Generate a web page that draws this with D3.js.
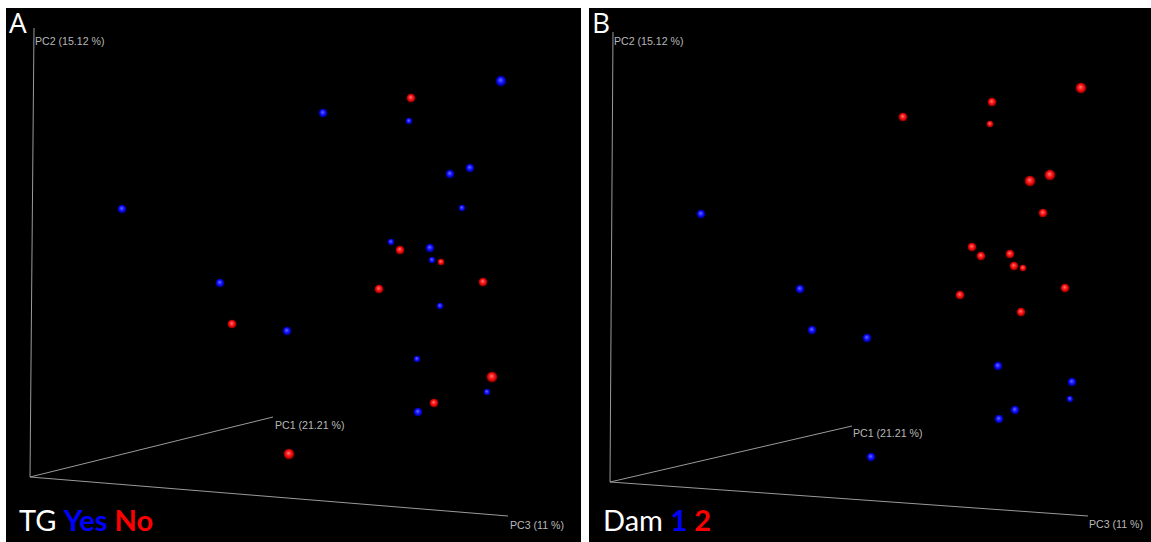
<!DOCTYPE html>
<html>
<head>
<meta charset="utf-8">
<script src="https://cdn.jsdelivr.net/npm/d3@7"></script>
<style>
  body { margin: 0; background: #fff; }
  .axisLabel { font-family: "Liberation Sans", Arial, sans-serif; font-size: 10.6px; fill: #b8b8b8; }
  .panelLetter { font-family: "Open Sans", "DejaVu Sans", sans-serif; font-size: 28px; fill: #fff; }
  .legend { font-family: Lato, "Open Sans", sans-serif; font-size: 29px; }
</style>
</head>
<body>
<div id="chart"></div>
<script>
// Projected PCoA coordinates (screen units inside each panel),
// third value = apparent sphere size (1 small, 2 normal, 3 large)
const tgYes = [
  [495, 73, 3], [317, 105, 2], [403, 113, 1], [444, 166, 2], [464, 160, 2],
  [116, 201, 2], [456, 200, 1], [385, 234, 1], [424, 240, 2], [426, 252, 1],
  [214, 275, 2], [434, 298, 1], [281, 323, 2], [411, 351, 1], [481, 384, 1],
  [412, 404, 2]
];
const tgNo = [
  [405, 90, 2], [394, 242, 2], [435, 254, 1], [373, 281, 2], [477, 274, 2],
  [226, 316, 2], [486, 369, 3], [428, 395, 2], [283, 446, 3]
];
const dam1 = [
  [112, 206, 2], [211, 281, 2], [223, 322, 2], [278, 330, 2], [409, 358, 2],
  [483, 374, 2], [481, 391, 1], [426, 402, 2], [410, 411, 2], [282, 449, 2]
];
const dam2 = [
  [492, 80, 3], [403, 94, 2], [314, 109, 2], [401, 116, 1], [441, 173, 3],
  [461, 167, 3], [454, 205, 2], [383, 239, 2], [392, 248, 2], [421, 246, 2],
  [425, 258, 2], [434, 260, 1], [371, 287, 2], [476, 280, 2], [432, 304, 2]
];

// axis ends in the same projected units: origin, PC2, PC1, PC3
const axesA = { origin: [24, 469], pc2: [28, 20], pc1: [267, 409], pc3: [502, 508] };
const axesB = { origin: [21, 474], pc2: [24, 24], pc1: [263, 418], pc3: [499, 508] };
const axisNames = ["PC2 (15.12 %)", "PC1 (21.21 %)", "PC3 (11 %)"];

const panelLetters = ["A", "B"];
const legendA = [["TG ", "#ffffff", 400], ["Yes ", "#0000ff", 700], ["No", "#ff0000", 700]];
const legendB = [["Dam ", "#ffffff", 400], ["1 ", "#0000ff", 700], ["2", "#ff0000", 700]];

const svgWidth = 1151;
const svgHeight = 542;

const svg = d3.select("#chart")
    .append("svg")
    .attr("width", svgWidth)
    .attr("height", svgHeight);

// sphere-looking gradients
const defs = svg.append("defs");
function sphereGrad(id, light, mid, dark) {
    const g = defs.append("radialGradient")
        .attr("id", id)
        .attr("cx", "50%").attr("cy", "50%").attr("r", "50%")
        .attr("fx", "45%").attr("fy", "40%");
    g.append("stop").attr("offset", "0%").attr("stop-color", light);
    g.append("stop").attr("offset", "45%").attr("stop-color", mid);
    g.append("stop").attr("offset", "80%").attr("stop-color", dark);
    g.append("stop").attr("offset", "100%").attr("stop-color", dark).attr("stop-opacity", 0.3);
}
sphereGrad("blueBall", "#6a6aff", "#1a1aff", "#0000b8");
sphereGrad("redBall", "#ff7a7a", "#ff1a1a", "#b80000");

const panels = [
    { x: 6, y: 8, w: 575, h: 534, axes: axesA, groups: [[tgYes, "blueBall"], [tgNo, "redBall"]], legend: legendA,
      labelOffsets: [[1, 17], [2, 12], [2, 13]] },
    { x: 589, y: 8, w: 562, h: 534, axes: axesB, groups: [[dam1, "blueBall"], [dam2, "redBall"]], legend: legendB,
      labelOffsets: [[1, 13], [1, 11], [1, 12]] }
];

const rScale = d3.scaleLinear().domain([1, 3]).range([3.6, 5.6]);

panels.forEach(function (p, i) {
    const g = svg.append("g").attr("transform", `translate(${p.x}, ${p.y})`);

    g.append("rect")
        .attr("width", p.w)
        .attr("height", p.h)
        .attr("fill", "#000");

    const xScale = d3.scaleLinear().domain([0, p.w]).range([0, p.w]);
    const yScale = d3.scaleLinear().domain([0, p.h]).range([0, p.h]);

    // axes lines from the origin
    const ends = [p.axes.pc2, p.axes.pc1, p.axes.pc3];
    ends.forEach(function (e, k) {
        g.append("line")
            .attr("x1", xScale(p.axes.origin[0]))
            .attr("y1", yScale(p.axes.origin[1]))
            .attr("x2", xScale(e[0]))
            .attr("y2", yScale(e[1]))
            .attr("stroke", "#9a9a9a")
            .attr("stroke-width", 1);
        g.append("text")
            .attr("class", "axisLabel")
            .attr("x", xScale(e[0]) + p.labelOffsets[k][0])
            .attr("y", yScale(e[1]) + p.labelOffsets[k][1])
            .text(axisNames[k]);
    });

    // points
    p.groups.forEach(function (grp) {
        g.selectAll(null)
            .data(grp[0])
            .enter()
            .append("circle")
            .attr("cx", d => xScale(d[0]))
            .attr("cy", d => yScale(d[1]))
            .attr("r", d => rScale(d[2]))
            .attr("fill", `url(#${grp[1]})`);
    });

    // panel letter
    g.append("text")
        .attr("class", "panelLetter")
        .attr("x", 3)
        .attr("y", 25)
        .text(panelLetters[i]);

    // legend
    const leg = g.append("text")
        .attr("class", "legend")
        .attr("x", i === 0 ? 13 : 14)
        .attr("y", 523);
    p.legend.forEach(function (l) {
        leg.append("tspan")
            .attr("fill", l[1])
            .attr("font-weight", l[2])
            .attr("xml:space", "preserve")
            .text(l[0]);
    });
});
</script>
</body>
</html>
